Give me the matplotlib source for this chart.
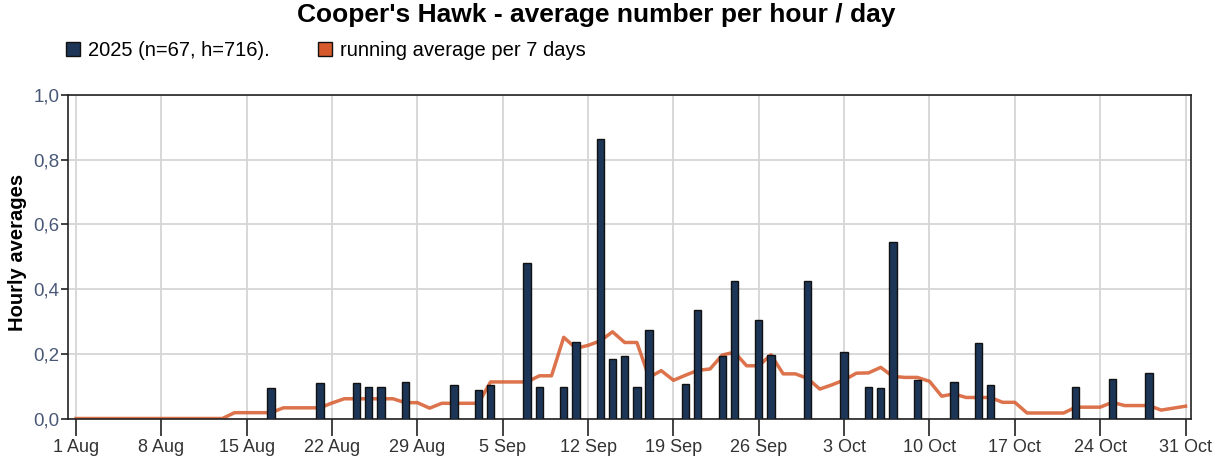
import matplotlib
matplotlib.use("Agg")
import matplotlib.pyplot as plt
from matplotlib.patches import Patch
import numpy as np

plt.rcParams['font.family'] = ['Liberation Sans', 'DejaVu Sans']

# ---- data -------------------------------------------------------------
# day index: 0 = 1 Aug ... 91 = 31 Oct
bar_days = [16, 20, 23, 24, 25, 27, 31, 33, 34, 37, 38, 40, 41, 43, 44, 45, 46, 47,
            50, 51, 53, 54, 56, 57, 60, 63, 65, 66, 67, 69, 72, 74, 75, 82, 85, 88]
bar_values = [0.093, 0.109, 0.109, 0.098, 0.098, 0.114, 0.103, 0.088, 0.103, 0.481,
              0.098, 0.098, 0.237, 0.864, 0.185, 0.192, 0.098, 0.274, 0.108, 0.336,
              0.192, 0.424, 0.306, 0.197, 0.424, 0.206, 0.098, 0.093, 0.547, 0.118,
              0.113, 0.232, 0.103, 0.098, 0.123, 0.140]

running_avg = [0, 0, 0, 0, 0, 0, 0, 0, 0, 0, 0, 0, 0,          # 1-13 Aug
               0.018, 0.018, 0.018, 0.018,                     # 14-17 Aug
               0.033, 0.033, 0.033, 0.033, 0.048,              # 18-22 Aug
               0.061, 0.061, 0.061, 0.061, 0.061,              # 23-27 Aug
               0.049, 0.049, 0.032, 0.047,                     # 28-31 Aug
               0.047, 0.047, 0.047, 0.113, 0.113, 0.113, 0.113,  # 1-7 Sep
               0.132, 0.132, 0.251, 0.217, 0.226, 0.240, 0.268,  # 8-14 Sep
               0.235, 0.235, 0.127, 0.148, 0.118, 0.134, 0.149,  # 15-21 Sep
               0.153, 0.196, 0.205, 0.163, 0.163, 0.197, 0.138,  # 22-28 Sep
               0.138, 0.124, 0.091, 0.104, 0.119, 0.140, 0.141,  # 29 Sep-5 Oct
               0.158, 0.130, 0.127, 0.127, 0.115, 0.069, 0.076,  # 6-12 Oct
               0.065, 0.065, 0.065, 0.050, 0.050, 0.017, 0.017,  # 13-19 Oct
               0.017, 0.017, 0.035, 0.035, 0.035, 0.050, 0.040,  # 20-26 Oct
               0.040, 0.040, 0.026, 0.032, 0.038]                # 27-31 Oct

tick_days = [0, 7, 14, 21, 28, 35, 42, 49, 56, 63, 70, 77, 84, 91]
tick_labels = ['1 Aug', '8 Aug', '15 Aug', '22 Aug', '29 Aug', '5 Sep', '12 Sep',
               '19 Sep', '26 Sep', '3 Oct', '10 Oct', '17 Oct', '24 Oct', '31 Oct']
y_ticks = [0.0, 0.2, 0.4, 0.6, 0.8, 1.0]
y_labels = ['0,0', '0,2', '0,4', '0,6', '0,8', '1,0']

title = "Cooper's Hawk - average number per hour / day"
bar_label = '2025 (n=67, h=716).'
line_label = 'running average per 7 days'

# ---- style ------------------------------------------------------------
bar_color = '#1d3557'
line_color = '#d65a2c'

fig = plt.figure(figsize=(12.13, 4.65), dpi=100)
ax = fig.add_axes([68/1213, 1 - 418.5/465, (1191-68)/1213, (418.5-95)/465])

ax.plot(range(len(running_avg)), running_avg, color=line_color, lw=2.5, alpha=0.85,
        zorder=2, solid_joinstyle='round')
ax.bar(bar_days, bar_values, width=0.6, color=bar_color, edgecolor='#111111',
       linewidth=1.0, zorder=3)

ax.set_xlim(-0.66, 91.45)
ax.set_ylim(0, 1.0)
ax.set_xticks(tick_days)
ax.set_xticklabels(tick_labels, fontsize=13, color='#333333')
ax.set_yticks(y_ticks)
ax.set_yticklabels(y_labels, fontsize=13.5, color='#4a5878')
ax.tick_params(axis='x', length=12, width=1.2, color='#222222', pad=3)
ax.tick_params(axis='y', length=5, width=1.2, color='#222222', pad=1)
ax.grid(True, color='#d6d6d6', lw=1.3, zorder=0)
ax.set_axisbelow(True)
for s in ax.spines.values():
    s.set_color('#222222')
    s.set_linewidth(1.2)

ax.set_ylabel('Hourly averages', fontsize=14.5, fontweight='bold')
ax.yaxis.set_label_coords((27 - 68) / 1123, (418.5 - 252) / 323.5)

fig.suptitle(title, x=596/1213, y=1 - 15/465, va='center', fontsize=19,
             fontweight='bold')

handles = [Patch(facecolor=bar_color, edgecolor='#111111', label=bar_label),
           Patch(facecolor=line_color, edgecolor='#111111', label=line_label)]
fig.legend(handles=handles, loc='center left', bbox_to_anchor=(66/1213, 1 - 51/465),
           ncol=2, frameon=False, fontsize=14.5, handlelength=0.7, handleheight=0.7,
           handletextpad=0.4, columnspacing=2.4, borderaxespad=0, borderpad=0)

fig.savefig('out.png', dpi=100)
